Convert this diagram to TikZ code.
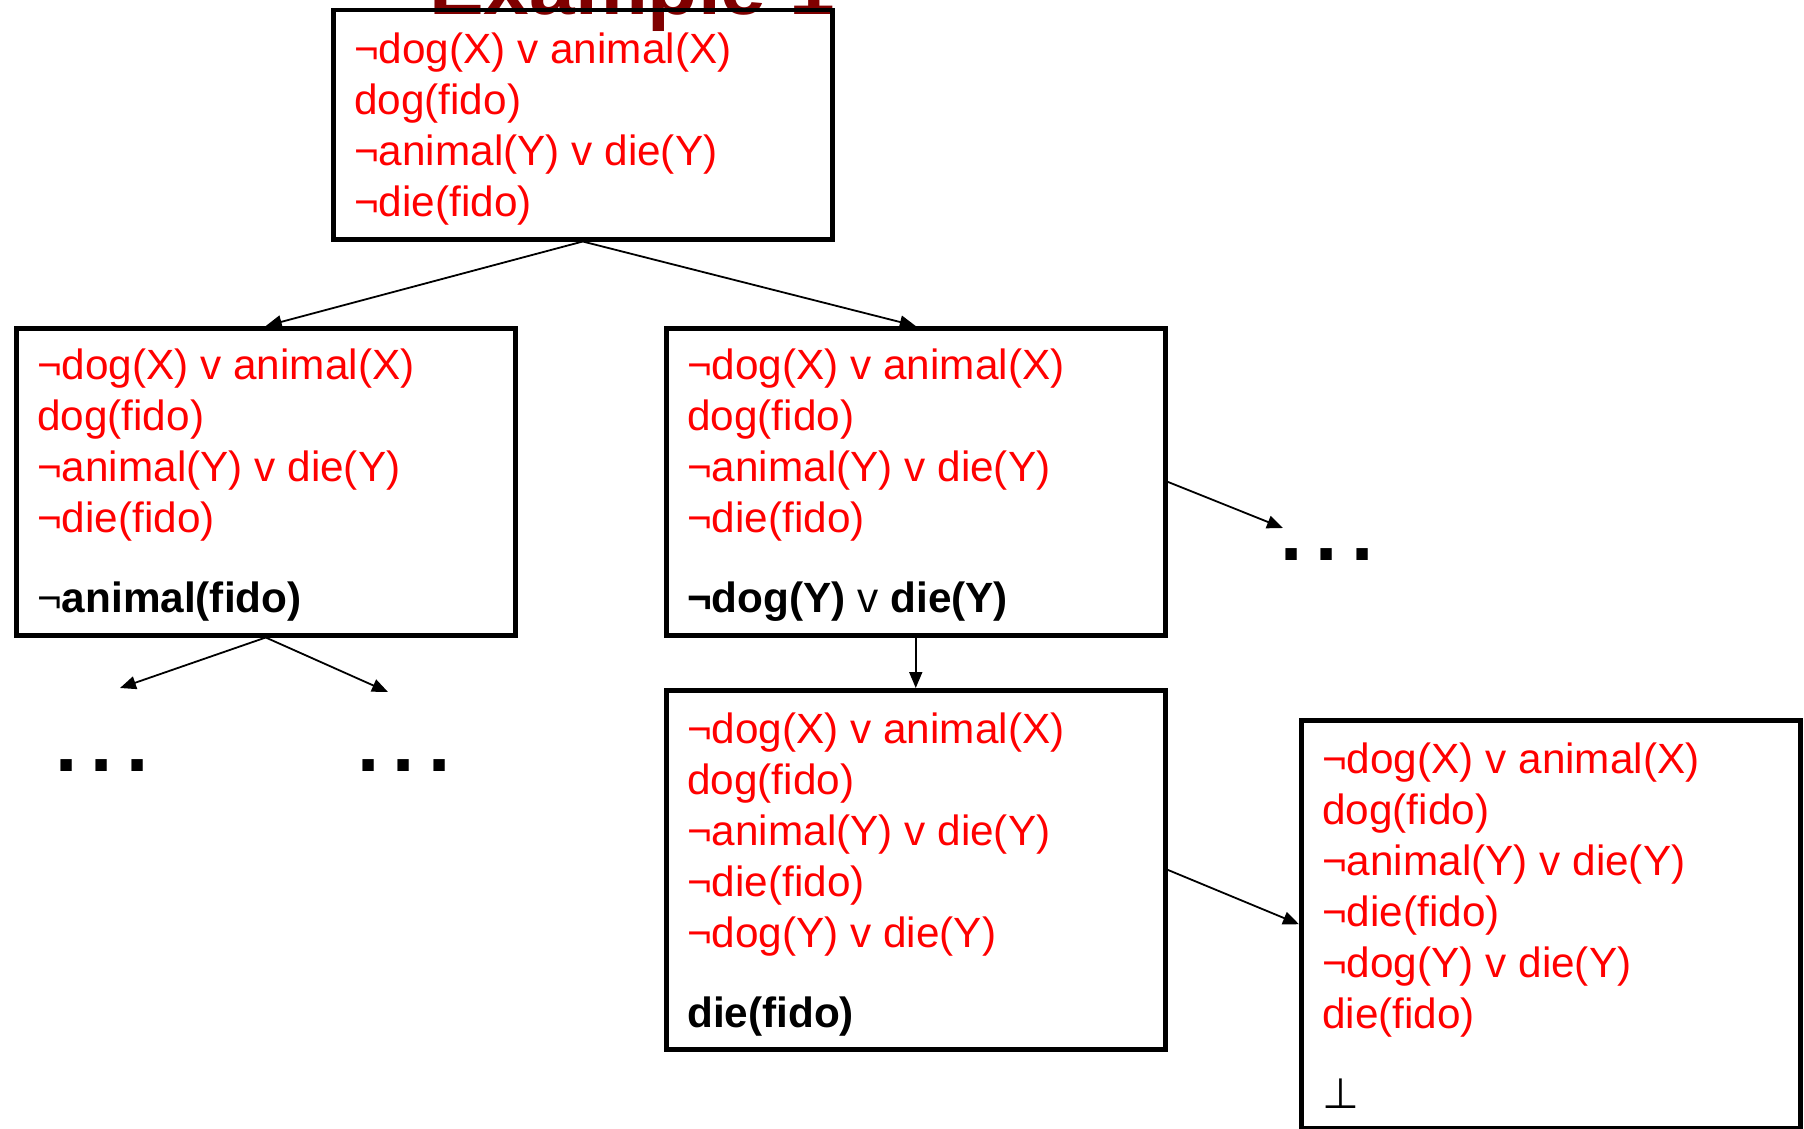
\documentclass[tikz,border=0pt]{standalone}
\usepackage{fontspec}
\setmainfont{Liberation Sans}
\newfontfamily\symfont{DejaVu Sans}
\usetikzlibrary{arrows.meta}
\definecolor{titlered}{RGB}{128,0,0}
\newcommand{\clausefont}{\fontsize{42.3}{51}\selectfont}
\tikzstyle{clausebox}=[draw, line width=4.5pt, inner sep=0pt, anchor=north west, minimum width=499pt]
\tikzstyle{clauses}=[anchor=base west, align=left, inner sep=0pt, text=red, font=\clausefont]
\tikzstyle{etc}=[inner sep=0pt, font=\fontsize{80}{80}\selectfont\bfseries]
\tikzstyle{title}=[anchor=base, inner sep=0pt, text=titlered, font=\fontsize{82}{82}\selectfont\bfseries]
\tikzstyle{link}=[-{Triangle[length=16pt,width=13pt]}, line width=1.8pt]
\newcommand{\clausebox}{\node[clausebox]}
\newcommand{\etc}{.\hspace{13pt}.\hspace{13pt}.}
\newcommand{\goal}[1]{\textcolor{black}{#1}}

\begin{document}
\begin{tikzpicture}[x=1pt, y=-1pt]
	\clip (0,0) rectangle (1804,1129);
	\node[title] (title) at (632,15) {Example 1};
	%% the boxes
	\clausebox (top) at (331,8) [minimum height=229pt] {};
	\clausebox (left) at (14,326) [minimum height=307pt] {};
	\clausebox (mid) at (664,326) [minimum height=307pt] {};
	\clausebox (lower) at (664,688) [minimum height=359pt] {};
	\clausebox (right) at (1299,718) [minimum height=408pt] {};
	%% the clauses (placed by their last line)
	\node[clauses] (toptext) at (354,216) {¬dog(X) v animal(X)\\dog(fido)\\¬animal(Y) v die(Y)\\¬die(fido)};
	\node[clauses] (lefttext) at (37,612) {¬dog(X) v animal(X)\\dog(fido)\\¬animal(Y) v die(Y)\\¬die(fido)\\[29pt]
		\goal{¬\textbf{animal(fido)}}};
	\node[clauses] (midtext) at (687,612) {¬dog(X) v animal(X)\\dog(fido)\\¬animal(Y) v die(Y)\\¬die(fido)\\[29pt]
		\goal{\textbf{¬dog(Y)} v \textbf{die(Y)}}};
	\node[clauses] (lowertext) at (687,1027) {¬dog(X) v animal(X)\\dog(fido)\\¬animal(Y) v die(Y)\\¬die(fido)\\¬dog(Y) v die(Y)\\[29pt]
		\goal{\textbf{die(fido)}}};
	\node[clauses] (righttext) at (1322,1108) {¬dog(X) v animal(X)\\dog(fido)\\¬animal(Y) v die(Y)\\¬die(fido)\\¬dog(Y) v die(Y)\\die(fido)\\[29pt]
		\goal{\symfont ⊥}};
	%% the open branches
	\node[etc] (etcleft) at (102,766) {\etc};
	\node[etc] (etcright) at (404,766) {\etc};
	\node[etc] (etcmid) at (1327,555) {\etc};
	\coordinate (toleft) at (120,688);
	\coordinate (toright) at (388,692);
	\coordinate (tomid) at (1283,528);
	%% for the arrows
	\draw[link] (top.south) -- (left.north);
	\draw[link] (top.south) -- (mid.north);
	\draw[link] (left.south) -- (toleft);
	\draw[link] (left.south) -- (toright);
	\draw[link] (mid.east) -- (tomid);
	\draw[link] (mid.south) -- (lower.north);
	\draw[link] (lower.east) -- (right.west);
\end{tikzpicture}
\end{document}
